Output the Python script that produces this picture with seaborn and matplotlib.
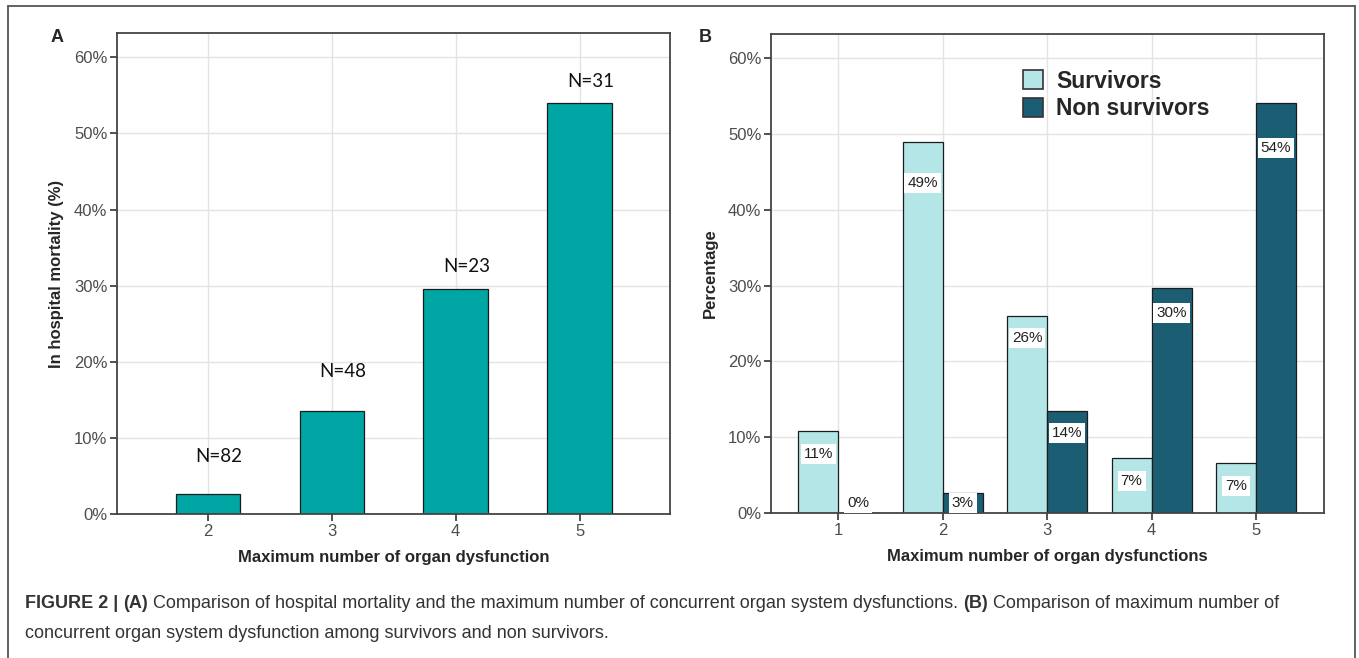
import matplotlib
matplotlib.use("Agg")
import matplotlib.pyplot as plt
from matplotlib.lines import Line2D
import numpy as np
import pandas as pd
import seaborn as sns

# ---------------- data ----------------
organs_a = ["2", "3", "4", "5"]
mortality_a = [2.6, 13.5, 29.6, 54.0]
n_labels_a = ["N=82", "N=48", "N=23", "N=31"]

organs_b = ["1", "2", "3", "4", "5"]
survivors_b = [10.8, 48.9, 26.0, 7.2, 6.6]
nonsurvivors_b = [0.0, 2.7, 13.5, 29.7, 54.1]
groups_b = ["Survivors", "Non survivors"]

yticks = [0, 10, 20, 30, 40, 50, 60]

# ---------------- style ----------------
sns.set_theme(style="whitegrid")
plt.rcParams["font.family"] = ["Liberation Sans", "DejaVu Sans"]

W, H = 1359, 658
fig = plt.figure(figsize=(W / 100, H / 100), dpi=100)
fig.patch.set_facecolor("white")

def frac_rect(l, r, t, b):
    return [l / W, 1 - b / H, (r - l) / W, (b - t) / H]

axA = fig.add_axes(frac_rect(117, 670, 33, 514))
axB = fig.add_axes(frac_rect(771, 1323.5, 34, 513))

teal = "#00A6A4"
light = "#B5E6E7"
dark = "#1B5E73"
edge = "#1c1c1c"
grid_c = "#e3e3e3"
spine_c = "#444444"
tick_c = "#4d4d4d"

def style_axes(ax):
    ax.set_facecolor("white")
    ax.grid(True, color=grid_c, linewidth=1.0)
    ax.set_axisbelow(True)
    for s in ax.spines.values():
        s.set_visible(True)
        s.set_color(spine_c)
        s.set_linewidth(1.3)
    ax.tick_params(axis="both", which="major", direction="out", length=5,
                   width=1.2, color="#333333", labelcolor=tick_c,
                   labelsize=12, bottom=True, left=True, pad=2)
    ax.set_ylim(0, 63.2)
    ax.set_yticks(yticks)
    ax.set_yticklabels([f"{v}%" for v in yticks])

# ---------------- panel A ----------------
dfA = pd.DataFrame({"organs": organs_a, "mortality": mortality_a})
sns.barplot(data=dfA, x="organs", y="mortality", ax=axA, color=teal,
            width=0.52, edgecolor=edge, linewidth=0.9, saturation=1)
style_axes(axA)
axA.set_xlim(-0.734, 3.73)
axA.set_xlabel("Maximum number of organ dysfunction", fontsize=12,
               fontweight="bold", labelpad=8)
axA.set_ylabel("In hospital mortality (%)", fontsize=12,
               fontweight="bold", labelpad=7)
n_label_pad = [4.9, 5.2, 2.9, 2.8]
for bar, lab, pad in zip(axA.patches, n_labels_a, n_label_pad):
    x = bar.get_x() + bar.get_width() / 2
    axA.annotate(lab, (x, bar.get_height() + pad), xytext=(8, 0),
                 textcoords="offset points", ha="center", va="center",
                 fontsize=13.5, family=["Lato", "DejaVu Sans"], color="#111111")

# ---------------- panel B ----------------
dfB = pd.DataFrame({
    "organs": organs_b * 2,
    "group": [groups_b[0]] * len(organs_b) + [groups_b[1]] * len(organs_b),
    "pct": survivors_b + nonsurvivors_b,
})
sns.barplot(data=dfB, x="organs", y="pct", hue="group", ax=axB,
            palette={groups_b[0]: light, groups_b[1]: dark},
            width=0.766, gap=0, edgecolor=edge, linewidth=0.9, saturation=1)
style_axes(axB)
axB.set_xlim(-0.644, 4.646)
axB.set_xlabel("Maximum number of organ dysfunctions", fontsize=12,
               fontweight="bold", labelpad=8)
axB.set_ylabel("Percentage", fontsize=12, fontweight="bold", labelpad=7)

for cont, vals in zip(axB.containers, [survivors_b, nonsurvivors_b]):
    for bar, v in zip(cont, vals):
        x = bar.get_x() + bar.get_width() / 2
        h = bar.get_height()
        y = h * 0.89 if h >= 20 else max(h - 3.0, 1.3)
        axB.text(x, y, f"{round(v)}%", ha="center", va="center", fontsize=11,
                 color="#222222",
                 bbox=dict(boxstyle="square,pad=0.2", fc="white", ec="none"))

handles, labels = axB.get_legend_handles_labels()
for hd in handles:
    hd.set_edgecolor("#333333")
    hd.set_linewidth(1.2)
axB.legend(handles, labels, loc="upper left", bbox_to_anchor=(0.44, 0.945),
           frameon=False, prop={"weight": "bold", "size": 16.5},
           handlelength=0.85, handleheight=0.9, handletextpad=0.6,
           labelspacing=0.2, borderaxespad=0)

# panel letters
fig.text(57 / W, 1 - 38 / H, "A", fontsize=13, fontweight="bold",
         ha="center", va="center")
fig.text(705 / W, 1 - 38 / H, "B", fontsize=13, fontweight="bold",
         ha="center", va="center")

# outer frame (open at bottom)
fc = "#555555"
fig.add_artist(Line2D([8 / W, 8 / W], [0, 1 - 6 / H], color=fc, lw=1.3,
                      transform=fig.transFigure))
fig.add_artist(Line2D([8 / W, 1355 / W], [1 - 6 / H, 1 - 6 / H], color=fc,
                      lw=1.3, transform=fig.transFigure))
fig.add_artist(Line2D([1355 / W, 1355 / W], [0, 1 - 6 / H], color=fc, lw=1.3,
                      transform=fig.transFigure))

# caption with mixed weights
cap_size = 13
cap_color = "#333333"
pieces = [("FIGURE 2 | ", "bold"), ("(A)", "bold"),
          (" Comparison of hospital mortality and the maximum number of concurrent "
           "organ system dysfunctions. ", "normal"),
          ("(B)", "bold"), (" Comparison of maximum number of", "normal")]
fig.canvas.draw()
renderer = fig.canvas.get_renderer()
x = 25 / W
y1 = 1 - 603 / H
for txt, wt in pieces:
    t = fig.text(x, y1, txt, fontsize=cap_size, fontweight=wt, color=cap_color,
                 ha="left", va="center")
    bb = t.get_window_extent(renderer)
    x += bb.width / W
fig.text(25 / W, 1 - 634 / H,
         "concurrent organ system dysfunction among survivors and non survivors.",
         fontsize=cap_size, color=cap_color, ha="left", va="center")

fig.savefig("out.png", dpi=100)
